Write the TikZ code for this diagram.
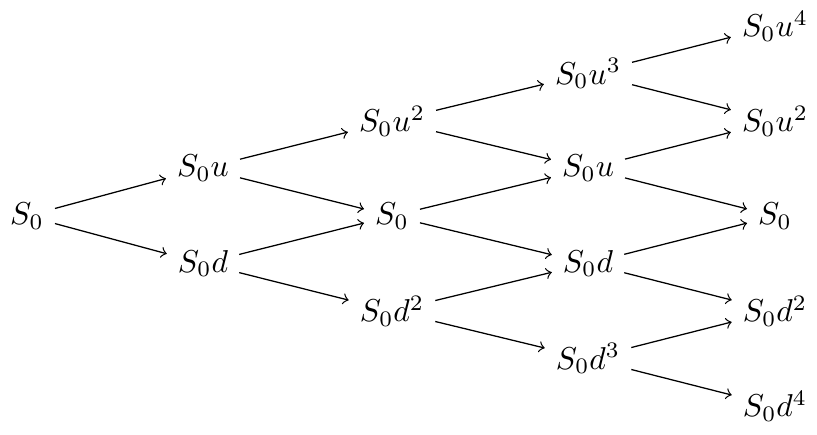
\documentclass[tikz,border=0pt]{standalone}
\begin{document}
\begin{tikzpicture}[x=0.011111cm,y=-0.011111cm,>=to,
  st/.style={inner sep=0.333em},
  br/.style={->}]
\useasboundingbox (0,0) rectangle (817,434);
\node[st] (a0) at (27,216) {$S_0$};
\node[st] (b0) at (203,168.5) {$S_0u$};
\node[st] (b1) at (203,263.5) {$S_0d$};
\node[st] (c0) at (392,121) {$S_0u^2$};
\node[st] (c1) at (392,216) {$S_0$};
\node[st] (c2) at (392,311) {$S_0d^2$};
\node[st] (d0) at (588,73.5) {$S_0u^3$};
\node[st] (d1) at (588,168.5) {$S_0u$};
\node[st] (d2) at (588,263.5) {$S_0d$};
\node[st] (d3) at (588,358.5) {$S_0d^3$};
\node[st] (e0) at (775,26) {$S_0u^4$};
\node[st] (e1) at (775,121) {$S_0u^2$};
\node[st] (e2) at (775,216) {$S_0$};
\node[st] (e3) at (775,311) {$S_0d^2$};
\node[st] (e4) at (775,406) {$S_0d^4$};
\draw[br] (a0) -- (b0);
\draw[br] (a0) -- (b1);
\draw[br] (b0) -- (c0);
\draw[br] (b0) -- (c1);
\draw[br] (b1) -- (c1);
\draw[br] (b1) -- (c2);
\draw[br] (c0) -- (d0);
\draw[br] (c0) -- (d1);
\draw[br] (c1) -- (d1);
\draw[br] (c1) -- (d2);
\draw[br] (c2) -- (d2);
\draw[br] (c2) -- (d3);
\draw[br] (d0) -- (e0);
\draw[br] (d0) -- (e1);
\draw[br] (d1) -- (e1);
\draw[br] (d1) -- (e2);
\draw[br] (d2) -- (e2);
\draw[br] (d2) -- (e3);
\draw[br] (d3) -- (e3);
\draw[br] (d3) -- (e4);
\end{tikzpicture}
\end{document}
